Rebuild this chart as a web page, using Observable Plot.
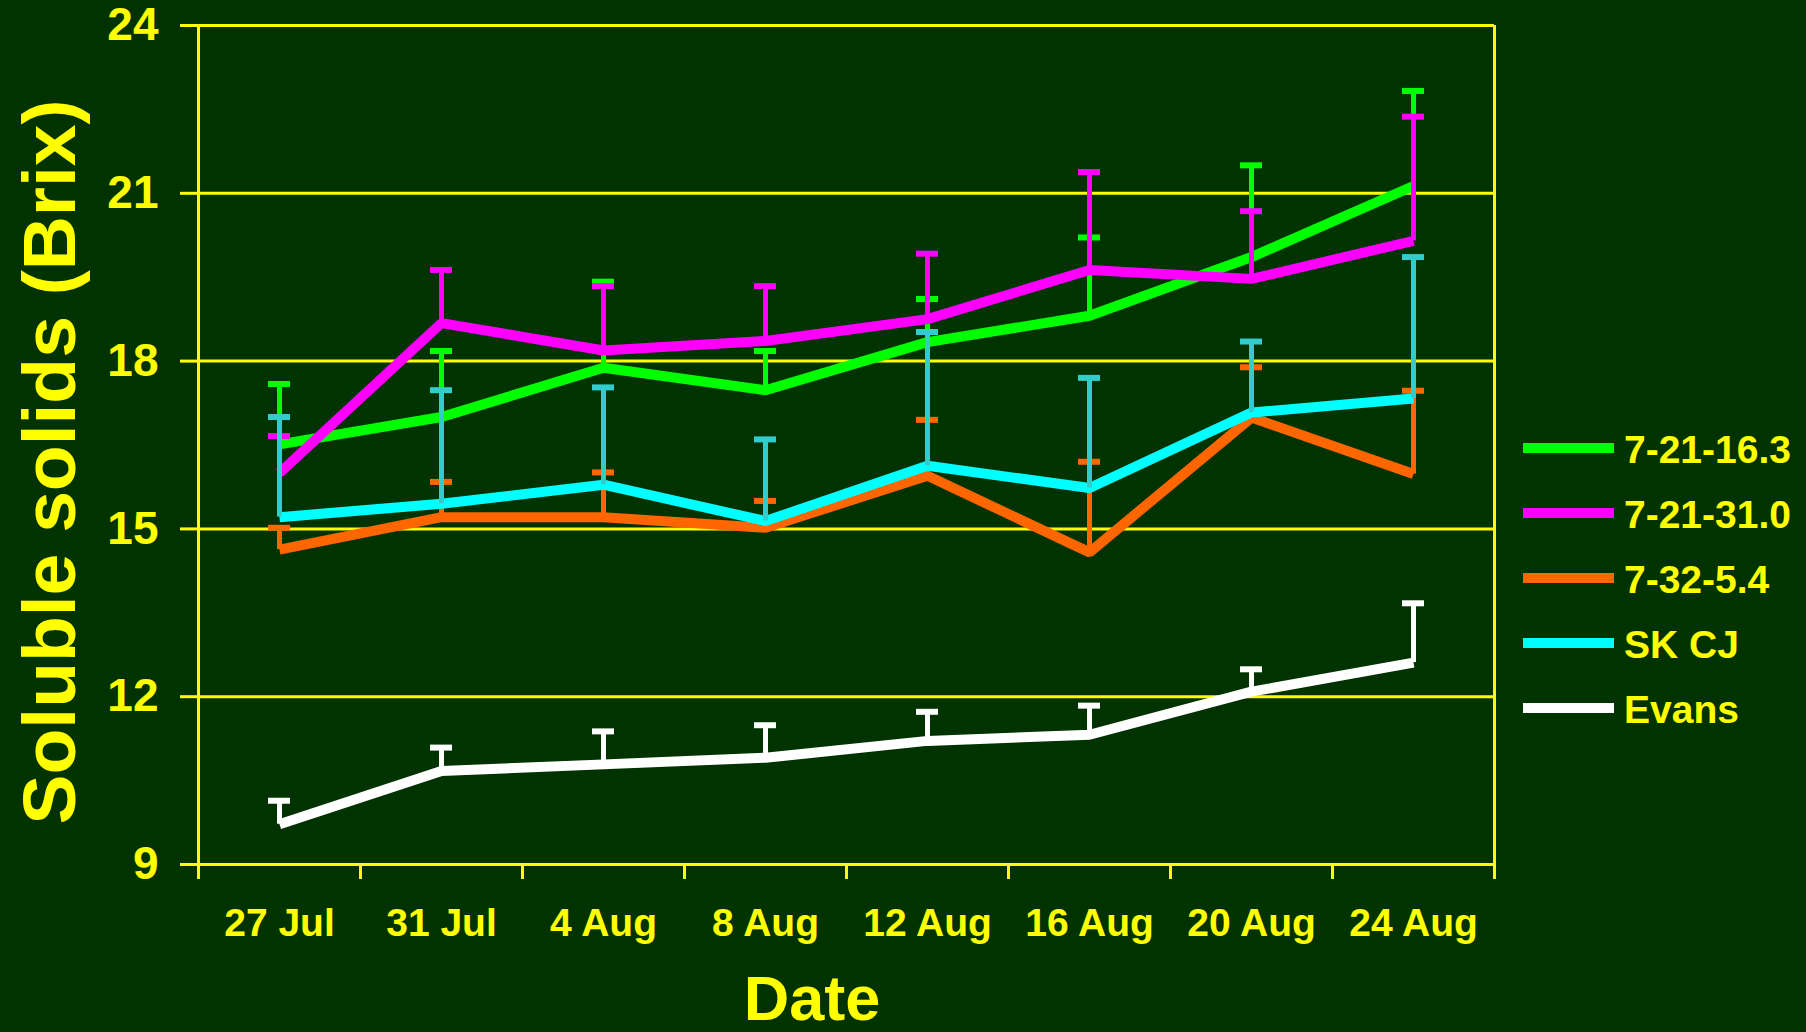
<!DOCTYPE html>
<html>
<head>
<meta charset="utf-8">
<script src="https://cdn.jsdelivr.net/npm/d3@7"></script>
<script src="https://cdn.jsdelivr.net/npm/@observablehq/plot@0.6"></script>
<style>
  html, body { margin: 0; padding: 0; background: #003300; }
  #chart { width: 1806px; height: 1032px; overflow: hidden; }
  svg { font-family: "Liberation Sans", Arial, Helvetica, sans-serif; font-weight: bold; }
  g[aria-label="y-axis tick label"] { font-size: 46px; font-weight: bold; }
  g[aria-label="x-axis tick label"] { font-size: 39px; font-weight: bold; }
</style>
</head>
<body>
<div id="chart"></div>
<script>
// ---- data ----
const dates = ["27 Jul", "31 Jul", "4 Aug", "8 Aug", "12 Aug", "16 Aug", "20 Aug", "24 Aug"];
const seriesNames = ["7-21-16.3", "7-21-31.0", "7-32-5.4", "SK CJ", "Evans"];
const yTicks = [9, 12, 15, 18, 21, 24];

const mean_7_21_16_3 = [16.51, 17.00, 17.88, 17.48, 18.34, 18.81, 19.86, 21.13];
const err_7_21_16_3  = [1.08, 1.18, 1.54, 0.70, 0.77, 1.40, 1.64, 1.70];
const mean_7_21_31_0 = [16.00, 18.68, 18.19, 18.36, 18.75, 19.63, 19.47, 20.15];
const err_7_21_31_0  = [0.66, 0.95, 1.15, 0.98, 1.17, 1.75, 1.21, 2.22];
const mean_7_32_5_4  = [14.63, 15.21, 15.21, 15.02, 15.95, 14.58, 16.99, 15.98];
const err_7_32_5_4   = [0.39, 0.63, 0.80, 0.48, 1.00, 1.62, 0.90, 1.49];
const mean_SK_CJ     = [15.21, 15.45, 15.79, 15.14, 16.13, 15.73, 17.08, 17.33];
const err_SK_CJ      = [1.79, 2.03, 1.74, 1.46, 2.39, 1.97, 1.27, 2.53];
const mean_Evans     = [9.72, 10.67, 10.79, 10.91, 11.21, 11.32, 12.09, 12.61];
const err_Evans      = [0.42, 0.42, 0.59, 0.58, 0.52, 0.52, 0.40, 1.06];

// ---- styles ----
const lineColors = ["#00FF00", "#FF00FF", "#FF6600", "#00FFFF", "#FFFFFF"];
const barColors  = ["#00FF00", "#FF00FF", "#FF6600", "#33CCCC", "#FFFFFF"];
const yellow = "#FFFF00";
const capHalf = 0.068; // half cap width in category units

const means = [mean_7_21_16_3, mean_7_21_31_0, mean_7_32_5_4, mean_SK_CJ, mean_Evans];
const errs  = [err_7_21_16_3, err_7_21_31_0, err_7_32_5_4, err_SK_CJ, err_Evans];

const rows = seriesNames.map((name, s) => dates.map((d, i) => ({
  series: name, i, x: i + 0.5, mean: means[s][i], top: means[s][i] + errs[s][i]
})));

const seriesMarks = [];
rows.forEach((data, s) => {
  seriesMarks.push(
    Plot.line(data, {x: "x", y: "mean", stroke: lineColors[s], strokeWidth: 10, strokeLinejoin: "miter", strokeLinecap: "butt"}),
    Plot.ruleX(data, {x: "x", y1: "mean", y2: "top", stroke: barColors[s], strokeWidth: 5}),
    Plot.ruleY(data, {y: "top", x1: d => d.x - capHalf, x2: d => d.x + capHalf, stroke: barColors[s], strokeWidth: 6})
  );
});

const plot = Plot.plot({
  width: 1806,
  height: 1032,
  marginLeft: 198,
  marginRight: 312,
  marginTop: 25,
  marginBottom: 168,
  style: {background: "#003300", color: yellow, fontFamily: "Liberation Sans, Arial, sans-serif", overflow: "visible"},
  x: {type: "linear", domain: [0, 8]},
  y: {domain: [9, 24]},
  marks: [
    Plot.gridY(yTicks, {stroke: yellow, strokeOpacity: 1, strokeWidth: 3}),
    Plot.ruleX([0, 8], {stroke: yellow, strokeWidth: 3}),
    Plot.axisY(yTicks, {tickSize: 18, tickPadding: 22, stroke: yellow, strokeWidth: 3, fill: yellow, label: null, fontSize: 46, fontWeight: "bold", tickFormat: d => String(d)}),
    Plot.axisX(d3.range(0, 9), {tickSize: 15, stroke: yellow, strokeWidth: 3, tickFormat: () => "", label: null}),
    Plot.axisX(dates.map((d, i) => i + 0.5), {tickSize: 0, tickPadding: 44, fill: yellow, tickFormat: v => dates[Math.floor(v)], label: null, fontSize: 39, fontWeight: "bold"}),
    ...seriesMarks
  ]
});

document.getElementById("chart").appendChild(plot);

// ---- titles and legend ----
const svg = d3.select(plot);
svg.append("text")
  .attr("transform", "translate(75,462) rotate(-90)")
  .attr("text-anchor", "middle")
  .attr("fill", yellow)
  .attr("font-size", 75)
  .attr("font-weight", "bold")
  .text("Soluble solids (Brix)");

svg.append("text")
  .attr("x", 812).attr("y", 1020)
  .attr("text-anchor", "middle")
  .attr("fill", yellow)
  .attr("font-size", 63)
  .attr("font-weight", "bold")
  .text("Date");

const legend = svg.append("g").attr("aria-label", "legend");
seriesNames.forEach((name, k) => {
  const y = 448 + 65 * k;
  legend.append("line")
    .attr("x1", 1523).attr("x2", 1614).attr("y1", y).attr("y2", y)
    .attr("stroke", lineColors[k]).attr("stroke-width", 10);
  legend.append("text")
    .attr("x", 1624).attr("y", y + 15)
    .attr("text-anchor", "start")
    .attr("fill", yellow).attr("font-size", 39).attr("font-weight", "bold")
    .text(name);
});
</script>
</body>
</html>
